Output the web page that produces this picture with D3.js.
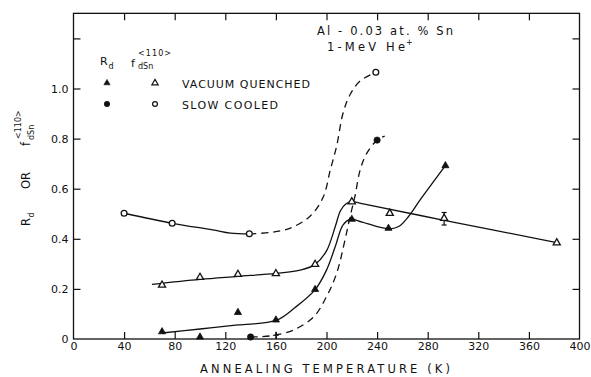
<!DOCTYPE html>
<html>
<head>
<meta charset="utf-8">
<script src="https://cdn.jsdelivr.net/npm/d3@7"></script>
<style>
  html, body { margin: 0; padding: 0; background: #fff; }
  svg { display: block; }
  text { font-family: "DejaVu Sans", sans-serif; fill: #111; }
</style>
</head>
<body>
<svg id="chart" width="591" height="377"></svg>
<script>
// Annealing temperature (K) and measured values
const vqF  = [[70,0.215],[100,0.246],[130,0.258],[160,0.261],[191,0.298],[220,0.548],[250,0.502],[293,0.482],[382,0.384]];
const vqRd = [[70,0.029],[100,0.008],[130,0.106],[160,0.076],[191,0.198],[220,0.478],[249,0.442],[294,0.692]];
const scF  = [[40,0.502],[78,0.462],[139,0.42],[239,1.065]];
const scRd = [[140,0.008],[240,0.794]];
const scRdCross = [[160,0.015]];
const errorBars = [[293,0.455,0.505]];

// Hand-drawn guide curves through the data
const vqFCurve  = [[62,0.218],[100,0.238],[130,0.25],[160,0.262],[180,0.276],[191,0.298],[200,0.352],[207,0.45],[211,0.512],[215,0.538],[220,0.548],[230,0.538],[293,0.474],[382,0.385]];
const vqRdCurve = [[70,0.024],[100,0.04],[130,0.056],[160,0.074],[175,0.125],[191,0.197],[200,0.275],[207,0.37],[213,0.455],[219,0.478],[228,0.467],[249,0.440],[257,0.449],[265,0.49],[274,0.555],[294,0.692]];
const scRdCurve = [[140,0.008],[147,0.009],[159,0.015],[174,0.036],[190,0.089],[200,0.169],[208,0.262],[214.6,0.395],[218.6,0.488],[222.5,0.57],[226.6,0.675],[231.8,0.741],[240,0.794],[246,0.81]];
const scFSolid  = [[40,0.502],[78,0.462],[110,0.436],[124,0.423],[139,0.42]];
const scFDashed = [[139,0.42],[155,0.425],[171,0.442],[187,0.49],[197.5,0.568],[203,0.675],[208,0.77],[213,0.9],[218.6,0.975],[226.6,1.03],[239,1.065]];

const xTicks = [0,40,80,120,160,200,240,280,320,360,400];
const yTicks = [0,0.2,0.4,0.6,0.8,1.0,1.2];
const yTickLabels = ["0","0.2","0.4","0.6","0.8","1.0",""];

const svg = d3.select("#chart");
const x = d3.scaleLinear().domain([0,400]).range([73.5,579.5]);
const y = d3.scaleLinear().domain([0,1.3]).range([339,339-1.3*250.5]);

// Frame
svg.append("rect")
  .attr("x", x(0)).attr("y", y(1.3))
  .attr("width", x(400)-x(0)).attr("height", y(0)-y(1.3))
  .attr("fill","none").attr("stroke","#111").attr("stroke-width",1.3);

const tickIn = 7;
const inner = xTicks.filter(t => t > 0 && t < 400);
const yInner = yTicks.filter(t => t > 0);

// Bottom axis with labels
const gx = svg.append("g").attr("transform",`translate(0,${y(0)})`)
  .call(d3.axisBottom(x).tickValues(xTicks).tickSizeInner(-tickIn).tickSizeOuter(0).tickPadding(3).tickFormat(d3.format("d")));
gx.select(".domain").remove();
gx.selectAll(".tick").filter(d => d === 0 || d === 400).select("line").remove();
gx.selectAll("text").attr("font-size",11).attr("font-family","DejaVu Sans").attr("fill","#111");
gx.selectAll("line").attr("stroke","#111").attr("stroke-width",1.2);

// Top axis, ticks only
const gt = svg.append("g").attr("transform",`translate(0,${y(1.3)})`)
  .call(d3.axisTop(x).tickValues(inner).tickSizeInner(-tickIn).tickSizeOuter(0).tickFormat(""));
gt.select(".domain").remove();
gt.selectAll("line").attr("stroke","#111").attr("stroke-width",1.2);

// Left axis with labels
const gy = svg.append("g").attr("transform",`translate(${x(0)},0)`)
  .call(d3.axisLeft(y).tickValues(yTicks).tickSizeInner(-tickIn).tickSizeOuter(0).tickPadding(5)
    .tickFormat((d,i) => yTickLabels[i]));
gy.select(".domain").remove();
gy.selectAll(".tick").filter(d => d === 0).select("line").remove();
gy.selectAll("text").attr("font-size",11).attr("font-family","DejaVu Sans").attr("fill","#111");
gy.selectAll("line").attr("stroke","#111").attr("stroke-width",1.2);

// Right axis, ticks only
const gr = svg.append("g").attr("transform",`translate(${x(400)},0)`)
  .call(d3.axisRight(y).tickValues(yInner).tickSizeInner(-tickIn).tickSizeOuter(0).tickFormat(""));
gr.select(".domain").remove();
gr.selectAll("line").attr("stroke","#111").attr("stroke-width",1.2);

// Curves
const line = d3.line().x(d => x(d[0])).y(d => y(d[1])).curve(d3.curveCatmullRom.alpha(0.5));
const drawCurve = (data, dashed) => svg.append("path")
  .attr("d", line(data)).attr("fill","none").attr("stroke","#111")
  .attr("stroke-width",1.3).attr("stroke-dasharray", dashed ? "7,5" : null);

drawCurve(vqFCurve, false);
drawCurve(vqRdCurve, false);
drawCurve(scFSolid, false);
drawCurve(scFDashed, true);
drawCurve(scRdCurve, true);

// Error bar
errorBars.forEach(([t, lo, hi]) => {
  const g = svg.append("g").attr("stroke","#111").attr("stroke-width",1.2);
  g.append("line").attr("x1",x(t)).attr("x2",x(t)).attr("y1",y(lo)).attr("y2",y(hi));
  g.append("line").attr("x1",x(t)-2.5).attr("x2",x(t)+2.5).attr("y1",y(lo)).attr("y2",y(lo));
  g.append("line").attr("x1",x(t)-2.5).attr("x2",x(t)+2.5).attr("y1",y(hi)).attr("y2",y(hi));
});

// Cross marker
scRdCross.forEach(([t, v]) => {
  svg.append("path")
    .attr("d", `M${x(t)-3},${y(v)}H${x(t)+3}M${x(t)},${y(v)-3.5}V${y(v)+3.5}`)
    .attr("stroke","#111").attr("stroke-width",1.2);
});

// Markers
const tri = d3.symbol().type(d3.symbolTriangle).size(22);
const triSmall = d3.symbol().type(d3.symbolTriangle).size(17);
function triangles(data, filled, sym) {
  svg.append("g").selectAll("path").data(data).join("path")
    .attr("d", sym || tri)
    .attr("transform", d => `translate(${x(d[0])},${y(d[1])})`)
    .attr("fill", filled ? "#111" : "#fff")
    .attr("stroke","#111").attr("stroke-width", filled ? 0.8 : 1.3);
}
function circles(data, filled) {
  svg.append("g").selectAll("circle").data(data).join("circle")
    .attr("cx", d => x(d[0])).attr("cy", d => y(d[1]))
    .attr("r", filled ? 3.2 : 2.9)
    .attr("fill", filled ? "#111" : "#fff")
    .attr("stroke","#111").attr("stroke-width", filled ? 0.6 : 1.3);
}
triangles(vqF, false);
triangles(vqRd, true);
circles(scF, false);
circles(scRd, true);

// Legend
svg.append("text").attr("x",100).attr("y",65).attr("font-size",11).text("R");
svg.append("text").attr("x",108.5).attr("y",68.5).attr("font-size",8).text("d");
svg.append("text").attr("x",131).attr("y",67).attr("font-size",11).text("f");
svg.append("text").attr("x",138).attr("y",69).attr("font-size",8).text("dSn");
svg.append("text").attr("x",138).attr("y",56).attr("font-size",8).attr("textLength",33).attr("lengthAdjust","spacing").text("<110>");

svg.append("path").attr("d",triSmall).attr("transform","translate(107,83)").attr("fill","#111").attr("stroke","#111").attr("stroke-width",0.6);
svg.append("path").attr("d",triSmall).attr("transform","translate(155,83)").attr("fill","#fff").attr("stroke","#111").attr("stroke-width",1.2);
svg.append("circle").attr("cx",107).attr("cy",104).attr("r",3).attr("fill","#111");
svg.append("circle").attr("cx",155).attr("cy",104).attr("r",2.4).attr("fill","#fff").attr("stroke","#111").attr("stroke-width",1.2);
svg.append("text").attr("x",182).attr("y",88).attr("font-size",11).attr("textLength",128).attr("lengthAdjust","spacing").text("VACUUM QUENCHED");
svg.append("text").attr("x",182).attr("y",109).attr("font-size",11).attr("textLength",96).attr("lengthAdjust","spacing").text("SLOW COOLED");

// Annotation
svg.append("text").attr("x",317).attr("y",35).attr("font-size",11.5).attr("textLength",136).attr("lengthAdjust","spacing").text("Al - 0.03 at. % Sn");
svg.append("text").attr("x",327).attr("y",51).attr("font-size",11.5).attr("textLength",78).attr("lengthAdjust","spacing").text("1-MeV He");
svg.append("text").attr("x",406).attr("y",45).attr("font-size",8).text("+");

// Axis titles
svg.append("text").attr("x",200).attr("y",373).attr("font-size",11.5)
  .attr("textLength",250).attr("lengthAdjust","spacing").text("ANNEALING TEMPERATURE (K)");

const yl = svg.append("g").attr("transform","translate(30,226) rotate(-90)");
yl.append("text").attr("x",0).attr("y",0).attr("font-size",11.5).text("R");
yl.append("text").attr("x",8.5).attr("y",4).attr("font-size",8).text("d");
yl.append("text").attr("x",37).attr("y",0).attr("font-size",11.5).text("OR");
yl.append("text").attr("x",80).attr("y",0).attr("font-size",11.5).text("f");
yl.append("text").attr("x",86).attr("y",4).attr("font-size",8).text("dSn");
yl.append("text").attr("x",87).attr("y",-9.5).attr("font-size",8).text("<110>");
</script>
</body>
</html>
